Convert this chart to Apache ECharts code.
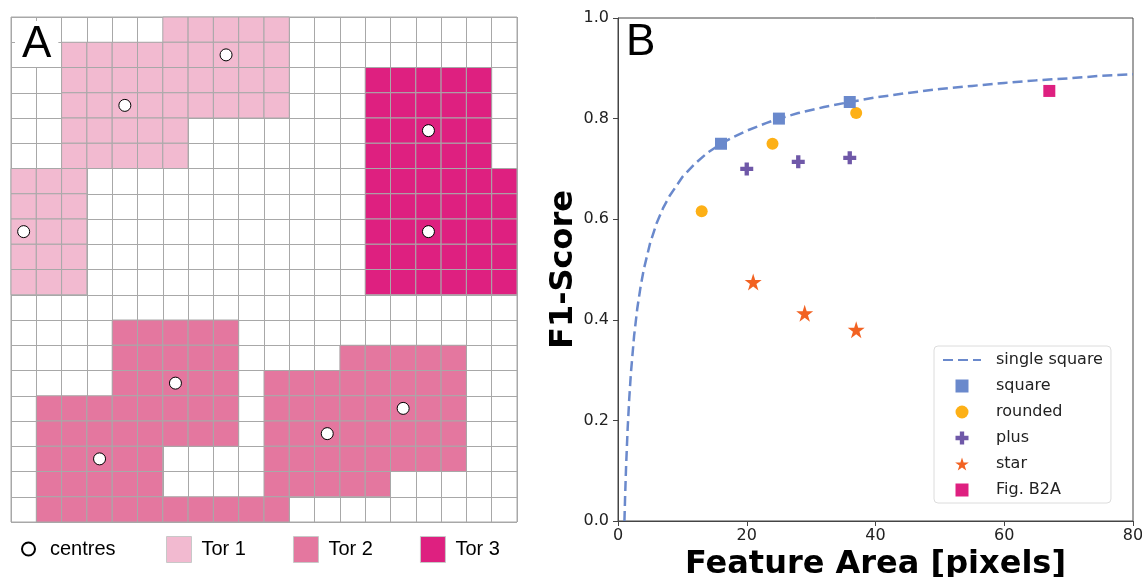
<!DOCTYPE html>
<html>
<head>
<meta charset="utf-8">
<script src="https://cdn.jsdelivr.net/npm/echarts@6/dist/echarts.min.js"></script>
<style>
  html, body { margin: 0; padding: 0; background: #fff; }
  #chart { width: 1142px; height: 577px; }
</style>
</head>
<body>
<div id="chart"></div>
<script>
// ---- panel A: 20 x 20 grid, tor cells given as runs [row, firstCol, lastCol]
const gridCols = ['0', '1', '2', '3', '4', '5', '6', '7', '8', '9', '10', '11', '12', '13', '14', '15', '16', '17', '18', '19']
const gridRows = gridCols.slice()
const tor1Runs = [[0, 6, 10], [1, 2, 10], [2, 2, 10], [3, 2, 10], [4, 2, 6], [5, 2, 6], [6, 0, 2], [7, 0, 2], [8, 0, 2], [9, 0, 2], [10, 0, 2]]
const tor2Runs = [[12, 4, 8], [13, 4, 8], [13, 13, 17], [14, 4, 8], [14, 10, 17], [15, 1, 8], [15, 10, 17], [16, 1, 8], [16, 10, 17], [17, 1, 5], [17, 10, 17], [18, 1, 5], [18, 10, 14], [19, 1, 10]]
const tor3Runs = [[2, 14, 18], [3, 14, 18], [4, 14, 18], [5, 14, 18], [6, 14, 19], [7, 14, 19], [8, 14, 19], [9, 14, 19], [10, 14, 19]]
const centres = [[8, 1], [4, 3], [16, 4], [0, 8], [16, 8], [6, 14], [3, 17], [12, 16], [15, 15]]

// ---- panel B: F1-score against feature area
const curveX = [1, 1.1, 1.25, 1.5, 1.75, 2, 2.5, 3, 3.5, 4, 5, 6, 7, 8, 10, 12, 14, 16, 18, 20, 23, 25, 28, 32, 36, 40, 45, 50, 55, 60, 65, 70, 75, 80]
const curveY = [0, 0.047, 0.106, 0.184, 0.244, 0.293, 0.368, 0.423, 0.465, 0.5, 0.553, 0.592, 0.622, 0.646, 0.684, 0.711, 0.733, 0.75, 0.764, 0.776, 0.791, 0.8, 0.811, 0.823, 0.833, 0.842, 0.851, 0.859, 0.865, 0.871, 0.876, 0.880, 0.885, 0.888]
const squareX = [16, 25, 36]
const squareY = [0.75, 0.8, 0.833]
const roundedX = [13, 24, 37]
const roundedY = [0.616, 0.75, 0.811]
const plusX = [20, 28, 36]
const plusY = [0.7, 0.714, 0.722]
const starX = [21, 29, 37]
const starY = [0.475, 0.413, 0.38]
const figB2AX = [67]
const figB2AY = [0.855]

function runsToCells (runs) {
  const cells = []
  runs.forEach(function (r) {
    for (let c = r[1]; c <= r[2]; c++) cells.push([c, r[0]])
  })
  return cells
}
function zip (xs, ys) {
  return xs.map(function (x, i) { return [x, ys[i]] })
}

function cellItem (params, api) {
  const p = api.coord([api.value(0), api.value(1)])
  const s = api.size([1, 1])
  return {
    type: 'rect',
    shape: { x: p[0] - s[0] / 2, y: p[1] - s[1] / 2, width: s[0], height: s[1] },
    style: { fill: api.visual('color'), stroke: '#a8a8a8', lineWidth: 1 }
  }
}

const squarePath = 'path://M0,0H10V10H0Z'
const plusPath = 'path://M4,0H8V4H12V8H8V12H4V8H0V4H4Z'
const starPath = 'path://M50,0L61.2,34.5L97.6,34.5L68.2,55.9L79.4,90.5L50,69.1L20.6,90.5L31.8,55.9L2.4,34.5L38.8,34.5Z'

const fontA = 'Liberation Sans, Arial, sans-serif'
const fontB = 'DejaVu Sans, sans-serif'

const option = {
  animation: false,
  title: [
    {
      text: 'A', left: 15, top: 21, padding: [2, 7, 0, 7], backgroundColor: '#fff',
      textStyle: { fontFamily: fontA, fontSize: 44, fontWeight: 'normal', color: '#000' }
    },
    {
      text: 'B', left: 626, top: 21, padding: 0,
      textStyle: { fontFamily: fontA, fontSize: 44, fontWeight: 'normal', color: '#000' }
    }
  ],
  legend: [
    {
      left: 21, top: 539, padding: 0, itemWidth: 13, itemHeight: 13,
      data: ['centres'],
      textStyle: { fontFamily: fontA, fontSize: 20, color: '#000', padding: [0, 0, 0, 10] }
    },
    {
      left: 166, top: 536, padding: 0, itemWidth: 25, itemHeight: 26, itemGap: 47,
      icon: 'rect',
      data: ['Tor 1', 'Tor 2', 'Tor 3'],
      itemStyle: { borderColor: '#c8c8c8', borderWidth: 1 },
      textStyle: { fontFamily: fontA, fontSize: 20, color: '#000', padding: [0, 0, 0, 5] }
    },
    {
      orient: 'vertical', left: 934, top: 346,
      padding: [6, 8, 5, 8], itemWidth: 38, itemHeight: 13, itemGap: 10,
      backgroundColor: '#fff', borderColor: '#dcdcdc', borderWidth: 1, borderRadius: 4,
      data: [
        { name: 'single square', itemStyle: { opacity: 0 } },
        'square', 'rounded', 'plus', 'star', 'Fig. B2A'
      ],
      textStyle: { fontFamily: fontB, fontSize: 16, color: '#222', padding: [0, 0, 0, 10] }
    }
  ],
  grid: [
    { left: 11, top: 17, width: 506, height: 505, outerBoundsMode: 'none', containLabel: false, show: true, borderColor: '#a8a8a8', borderWidth: 1 },
    { left: 618, top: 18, right: 9, bottom: 56, outerBoundsMode: 'none', containLabel: false, show: true, borderColor: '#444', borderWidth: 1 }
  ],
  xAxis: [
    {
      type: 'category', gridIndex: 0, data: gridCols,
      axisLine: { show: false }, axisTick: { show: false }, axisLabel: { show: false },
      splitLine: { show: true, interval: 0, lineStyle: { color: '#a8a8a8', width: 1 } }
    },
    {
      type: 'value', gridIndex: 1, min: 0, max: 80, interval: 20,
      name: 'Feature Area [pixels]', nameLocation: 'middle', nameGap: 21,
      nameTextStyle: { fontFamily: fontB, fontSize: 32, fontWeight: 'bold', color: '#000' },
      axisLine: { show: true, onZero: false, lineStyle: { color: '#444' } },
      axisTick: { show: true, length: 5, lineStyle: { color: '#444' } },
      axisLabel: { fontFamily: fontB, fontSize: 16, color: '#222', margin: 7 },
      splitLine: { show: false }
    }
  ],
  yAxis: [
    {
      type: 'category', gridIndex: 0, data: gridRows, inverse: true,
      axisLine: { show: false }, axisTick: { show: false }, axisLabel: { show: false },
      splitLine: { show: true, interval: 0, lineStyle: { color: '#a8a8a8', width: 1 } }
    },
    {
      type: 'value', gridIndex: 1, min: 0, max: 1, interval: 0.2,
      name: 'F1-Score', nameLocation: 'middle', nameGap: 36,
      nameTextStyle: { fontFamily: fontB, fontSize: 32, fontWeight: 'bold', color: '#000' },
      axisLine: { show: true, onZero: false, lineStyle: { color: '#444' } },
      axisTick: { show: true, length: 5, lineStyle: { color: '#444' } },
      axisLabel: { fontFamily: fontB, fontSize: 16, color: '#222', margin: 9, formatter: function (v) { return v.toFixed(1) } },
      splitLine: { show: false }
    }
  ],
  series: [
    { type: 'custom', name: 'Tor 1', xAxisIndex: 0, yAxisIndex: 0, itemStyle: { color: '#f2bad0' }, renderItem: cellItem, data: runsToCells(tor1Runs) },
    { type: 'custom', name: 'Tor 2', xAxisIndex: 0, yAxisIndex: 0, itemStyle: { color: '#e4779f' }, renderItem: cellItem, data: runsToCells(tor2Runs) },
    { type: 'custom', name: 'Tor 3', xAxisIndex: 0, yAxisIndex: 0, itemStyle: { color: '#de2080' }, renderItem: cellItem, data: runsToCells(tor3Runs) },
    {
      type: 'scatter', name: 'centres', xAxisIndex: 0, yAxisIndex: 0, z: 5,
      symbol: 'circle', symbolSize: 12,
      itemStyle: { color: '#fff', borderColor: '#000', borderWidth: 1, opacity: 1 },
      data: centres
    },
    {
      type: 'line', name: 'single square', xAxisIndex: 1, yAxisIndex: 1,
      smooth: false, showSymbol: false, symbol: 'none',
      itemStyle: { color: '#6a89cc' },
      lineStyle: { color: '#6a89cc', width: 2.5, type: [10, 5] },
      data: zip(curveX, curveY)
    },
    {
      type: 'scatter', name: 'square', xAxisIndex: 1, yAxisIndex: 1, z: 4,
      symbol: squarePath, symbolSize: 12, itemStyle: { color: '#6a89cc', opacity: 1 },
      data: zip(squareX, squareY)
    },
    {
      type: 'scatter', name: 'rounded', xAxisIndex: 1, yAxisIndex: 1,
      symbol: 'circle', symbolSize: 12, itemStyle: { color: '#fdb016', opacity: 1 },
      data: zip(roundedX, roundedY)
    },
    {
      type: 'scatter', name: 'plus', xAxisIndex: 1, yAxisIndex: 1,
      symbol: plusPath, symbolSize: 13, itemStyle: { color: '#6f58a8', opacity: 1 },
      data: zip(plusX, plusY)
    },
    {
      type: 'scatter', name: 'star', xAxisIndex: 1, yAxisIndex: 1,
      symbol: starPath, symbolSize: 17, itemStyle: { color: '#f26222', opacity: 1 },
      data: zip(starX, starY)
    },
    {
      type: 'scatter', name: 'Fig. B2A', xAxisIndex: 1, yAxisIndex: 1,
      symbol: squarePath, symbolSize: 12, itemStyle: { color: '#de2080', opacity: 1 },
      data: zip(figB2AX, figB2AY)
    }
  ]
}

const myChart = echarts.init(document.getElementById('chart'), null, { renderer: 'canvas' })
myChart.setOption(option)
</script>
</body>
</html>
